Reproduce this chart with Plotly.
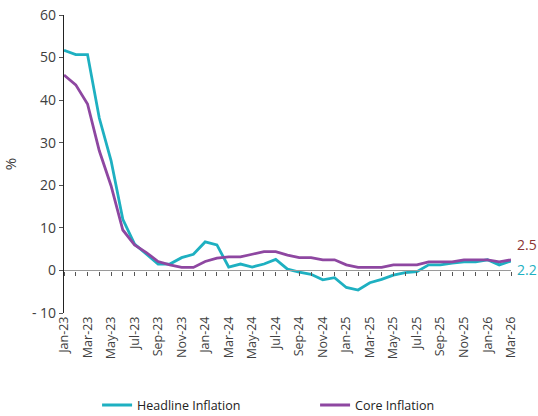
import plotly.graph_objects as go

months = ["Jan", "Feb", "Mar", "Apr", "May", "Jun", "Jul", "Aug", "Sep", "Oct", "Nov", "Dec"]
categories = [f"{m}-{y}" for y in ["23", "24", "25", "26"] for m in months][:39]

headline = [51.7, 50.7, 50.7, 35.8, 25.8, 12.0, 6.2, 3.8, 1.5, 1.5, 3.0, 3.8,
            6.7, 6.0, 0.8, 1.5, 0.8, 1.5, 2.6, 0.3, -0.4, -0.9, -2.2, -1.7,
            -4.0, -4.6, -2.9, -2.1, -1.1, -0.5, -0.3, 1.3, 1.3, 1.7, 2.0, 2.0,
            2.5, 1.3, 2.2]
core = [45.9, 43.6, 39.1, 28.1, 19.9, 9.5, 6.0, 4.2, 2.1, 1.3, 0.7, 0.7,
        2.1, 2.9, 3.2, 3.2, 3.8, 4.4, 4.4, 3.6, 3.0, 3.0, 2.5, 2.5,
        1.3, 0.7, 0.7, 0.7, 1.3, 1.3, 1.3, 2.0, 2.0, 2.0, 2.5, 2.5,
        2.5, 2.0, 2.5]

y_ticks = [60, 50, 40, 30, 20, 10, 0, -10]
y_ticktext = ["60", "50", "40", "30", "20", "10", "0", "- 10"]

TEAL = "#1EB0C1"
PURPLE = "#8E47A1"
TXT = "#404040"
FONT = "Open Sans"

fig = go.Figure()
fig.add_trace(go.Scatter(x=categories, y=headline, mode="lines", name="Headline Inflation",
                         line=dict(color=TEAL, width=2.8)))
fig.add_trace(go.Scatter(x=categories, y=core, mode="lines", name="Core Inflation",
                         line=dict(color=PURPLE, width=2.8)))
# invisible trace for the zero-line axis
fig.add_trace(go.Scatter(x=categories, y=[None] * len(categories), xaxis="x2",
                         showlegend=False, hoverinfo="skip"))

ymin, ymax = -10, 60
zero_pos = (0 - ymin) / (ymax - ymin)

fig.update_layout(
    width=538, height=416,
    margin=dict(l=64, r=27, t=15, b=103, autoexpand=False),
    paper_bgcolor="white", plot_bgcolor="white",
    font=dict(family=FONT, color=TXT, size=12),
    xaxis=dict(
        type="category", range=[0, len(categories) - 1], automargin=False,
        tickmode="array", tickvals=categories[::2], ticktext=categories[::2],
        tickangle=-90, ticks="", showline=False, showgrid=False, zeroline=False,
        tickfont=dict(size=12.5, color=TXT, family=FONT),
    ),
    xaxis2=dict(
        type="category", range=[0, len(categories) - 1], overlaying="x",
        anchor="free", position=zero_pos, side="bottom", automargin=False,
        showline=True, linecolor="#9a9a9a", linewidth=1.3,
        ticks="outside", ticklen=4, tickwidth=1.2, tickcolor="#555555",
        tickmode="array", tickvals=categories, showticklabels=False,
        showgrid=False, zeroline=False,
    ),
    yaxis=dict(
        range=[ymin, ymax], tickmode="array", tickvals=y_ticks, ticktext=y_ticktext,
        showline=True, linecolor="#222222", linewidth=1.3, automargin=False,
        ticks="outside", ticklen=4, tickcolor="#555555",
        showgrid=False, zeroline=False,
        tickfont=dict(size=14, color=TXT, family=FONT),
        title=dict(text="%", font=dict(size=15, color=TXT, family=FONT), standoff=18),
    ),
    legend=dict(
        orientation="h", x=0.074, xanchor="left", y=-0.31, yanchor="middle",
        entrywidth=173, entrywidthmode="pixels",
        font=dict(size=12.5, color="#222222", family=FONT),
    ),
    showlegend=True,
)

fig.add_annotation(x=categories[-1], y=core[-1], text="2.5", showarrow=False,
                   xanchor="left", yanchor="middle", xshift=4, yshift=15,
                   font=dict(size=14, color="#8B3535", family=FONT))
fig.add_annotation(x=categories[-1], y=headline[-1], text="2.2", showarrow=False,
                   xanchor="left", yanchor="middle", xshift=4, yshift=-8,
                   font=dict(size=14, color=TEAL, family=FONT))

fig.write_html("out.html")
